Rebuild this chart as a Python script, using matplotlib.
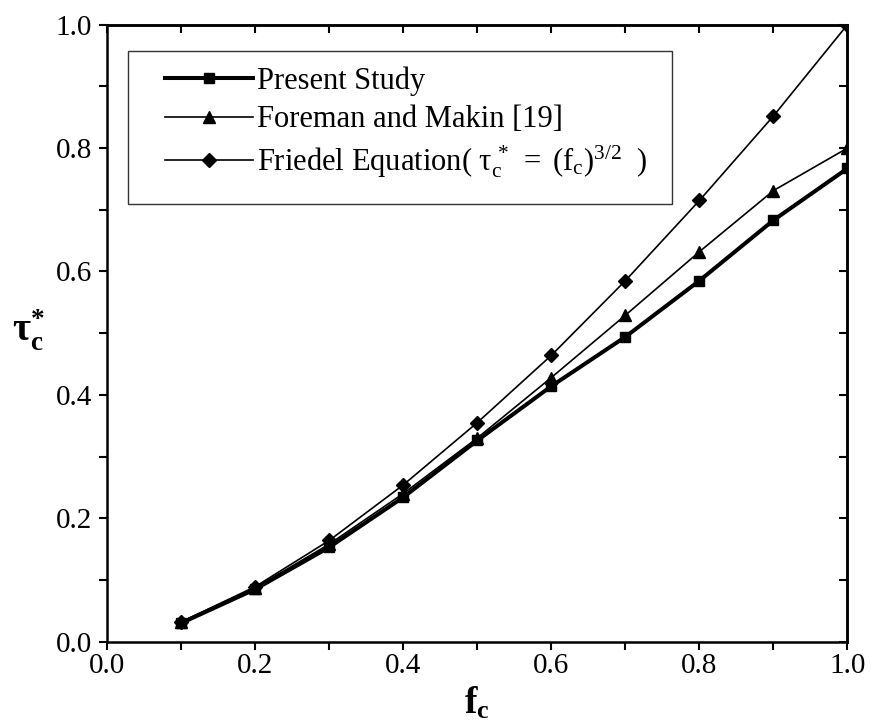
import numpy as np
import matplotlib
matplotlib.use("Agg")
import matplotlib.pyplot as plt
from matplotlib.patches import Rectangle
from matplotlib.ticker import MultipleLocator, NullFormatter

plt.rcParams["font.family"] = ["Liberation Serif", "DejaVu Serif"]
plt.rcParams["mathtext.fontset"] = "custom"
plt.rcParams["mathtext.rm"] = "Liberation Serif"
plt.rcParams["mathtext.it"] = "Liberation Serif:italic"
plt.rcParams["mathtext.bf"] = "Liberation Serif:bold"

# values
fc = [0.1, 0.2, 0.3, 0.4, 0.5, 0.6, 0.7, 0.8, 0.9, 1.0]
present_study = [0.030, 0.085, 0.153, 0.234, 0.326, 0.414, 0.494, 0.585, 0.683, 0.767]
foreman_makin = [0.032, 0.087, 0.158, 0.240, 0.330, 0.428, 0.529, 0.632, 0.731, 0.800]
friedel = [0.032, 0.089, 0.164, 0.254, 0.355, 0.464, 0.585, 0.715, 0.852, 1.000]

labels = [
    "Present Study",
    "Foreman and Makin [19]",
    r"Friedel Equation( $\mathrm{\tau}_\mathrm{c}^{\,*}\ =\ (\mathrm{f}_\mathrm{c})^{3/2}$  )",
]

fig = plt.figure(figsize=(8.71, 7.25), dpi=100)
ax = fig.add_axes([0.123, 0.115, 0.850, 0.851])

ax.plot(fc, present_study, color="black", lw=2.9, marker="s", ms=7.5, label=labels[0])
ax.plot(fc, foreman_makin, color="black", lw=1.2, marker="^", ms=9, label=labels[1])
ax.plot(fc, friedel, color="black", lw=1.2, marker="D", ms=7.5, label=labels[2])

ax.set_xlim(0, 1)
ax.set_ylim(0, 1)
for sp in ax.spines.values():
    sp.set_linewidth(1.8)

ax.xaxis.set_major_locator(MultipleLocator(0.2))
ax.xaxis.set_minor_locator(MultipleLocator(0.1))
ax.yaxis.set_major_locator(MultipleLocator(0.2))
ax.yaxis.set_minor_locator(MultipleLocator(0.1))
ax.xaxis.set_major_formatter(lambda v, p: f"{v:.1f}")
ax.yaxis.set_major_formatter(lambda v, p: f"{v:.1f}")
ax.tick_params(which="both", direction="out", length=6, width=1.5,
               top=False, right=False, labelsize=21)
ax.tick_params(axis="x", pad=2)
ax.tick_params(axis="y", pad=5)

# inward ticks on top and right
top = ax.secondary_xaxis("top")
top.xaxis.set_major_locator(MultipleLocator(0.1))
top.xaxis.set_major_formatter(NullFormatter())
top.tick_params(direction="in", length=6, width=1.5)
top.spines["top"].set_linewidth(1.8)
right = ax.secondary_yaxis("right")
right.yaxis.set_major_locator(MultipleLocator(0.1))
right.yaxis.set_major_formatter(NullFormatter())
right.tick_params(direction="in", length=6, width=1.5)
right.spines["right"].set_linewidth(1.8)

ax.set_xlabel(r"$\mathbf{f_c}$", fontsize=27, labelpad=5)
fig.text(12 / 871, 1 - 330 / 725, r"$\mathbf{\tau^{*}_{c}}$", fontsize=28,
         ha="left", va="center")

# legend box is drawn separately, it has more room at left and bottom than the entries
ax.add_patch(Rectangle((0.0284, 0.710), 0.735, 0.248, transform=ax.transAxes,
                       fill=False, edgecolor="#333333", lw=1.0, zorder=5))
ax.legend(loc="upper left", bbox_to_anchor=(0.078, 0.932), fontsize=22,
          frameon=False, handlelength=2.9, handletextpad=0.1, borderpad=0,
          labelspacing=0.3, borderaxespad=0)

fig.savefig("out.png", dpi=100)
